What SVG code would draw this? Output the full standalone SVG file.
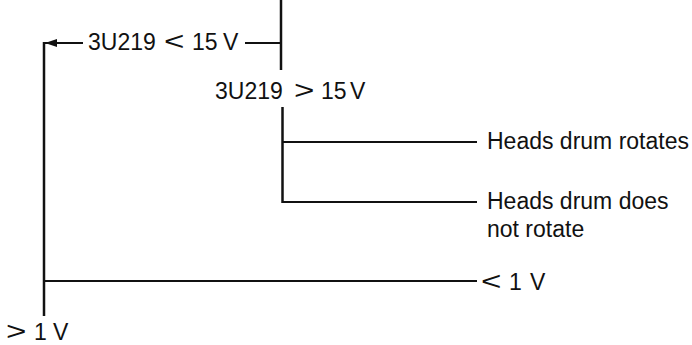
<svg xmlns="http://www.w3.org/2000/svg" width="692" height="345" viewBox="0 0 692 345">
<style>
.t{font-family:"Liberation Sans",Arial,sans-serif;font-size:23px;fill:#111}
.s{font-family:"Liberation Sans",Arial,sans-serif;font-size:25px;fill:#111}
.l{stroke:#111;stroke-width:2;fill:none}
.v{stroke:#111;stroke-width:2.5;fill:none}
</style>
<defs>
<marker id="ah" viewBox="0 0 12 8" refX="12" refY="4" markerWidth="12" markerHeight="8" markerUnits="userSpaceOnUse" orient="auto">
<path d="M0,0 L12,4 L0,8 Z" fill="#111"/>
</marker>
</defs>
<rect width="692" height="345" fill="#fff"/>
<g id="connectors">
<line class="v" x1="281" y1="0" x2="281" y2="70"/>
<line class="l" x1="281" y1="43" x2="245" y2="43"/>
<line class="l" x1="83" y1="43" x2="45" y2="43" marker-end="url(#ah)"/>
<line class="v" x1="44" y1="42" x2="44" y2="316"/>
<line class="v" x1="282.5" y1="107" x2="282.5" y2="203"/>
<line class="l" x1="282" y1="142" x2="477" y2="142"/>
<line class="l" x1="282" y1="202" x2="477" y2="202"/>
<line class="l" x1="44" y1="281" x2="477" y2="281"/>
</g>
<g id="n-lt15"><text class="t" y="50"><tspan x="88">3U219</tspan><tspan x="192">15</tspan><tspan x="223">V</tspan></text><text class="s" transform="translate(164,50) scale(1.4,1)">&lt;</text></g>
<g id="n-gt15"><text class="t" y="99"><tspan x="215">3U219</tspan><tspan x="321">15</tspan><tspan x="350">V</tspan></text><text class="s" transform="translate(294,99) scale(1.4,1)">&gt;</text></g>
<g id="n-rot"><text class="t" x="487" y="149">Heads drum rotates</text></g>
<g id="n-norot"><text class="t" x="487" y="209">Heads drum does</text><text class="t" x="487" y="237">not rotate</text></g>
<g id="n-lt1"><text class="t" y="290"><tspan x="509">1</tspan><tspan x="530">V</tspan></text><text class="s" transform="translate(481,290) scale(1.4,1)">&lt;</text></g>
<g id="n-gt1"><text class="t" y="340"><tspan x="34">1</tspan><tspan x="53">V</tspan></text><text class="s" transform="translate(6,340) scale(1.4,1)">&gt;</text></g>
</svg>
